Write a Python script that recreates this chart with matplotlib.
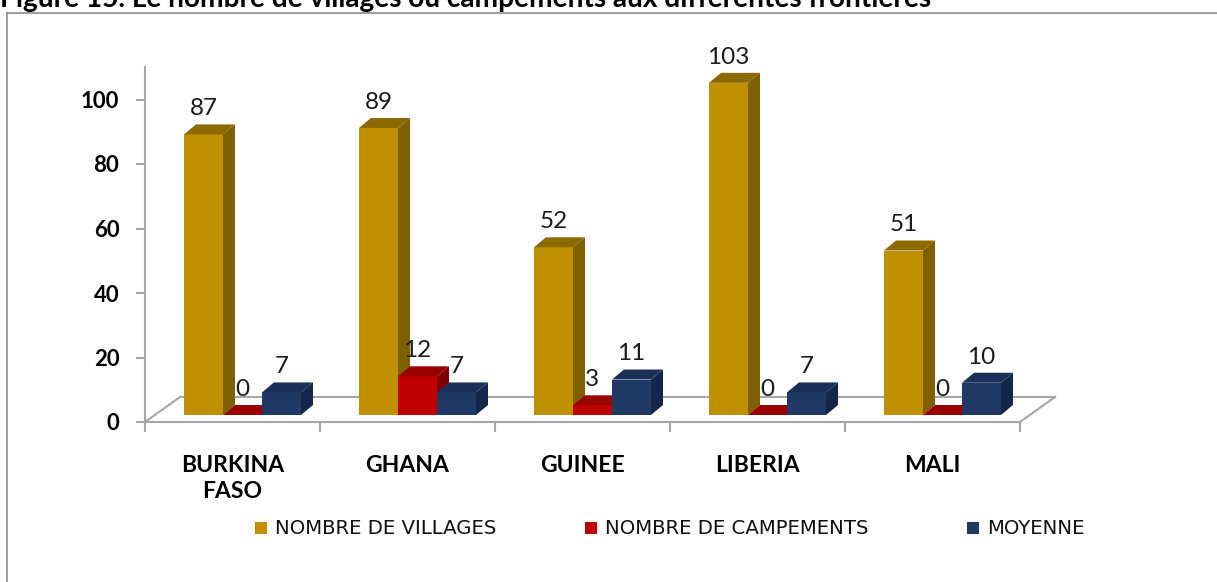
import matplotlib
matplotlib.use("Agg")
import matplotlib.pyplot as plt
from matplotlib.patches import Polygon, Rectangle
from matplotlib.lines import Line2D

# ---------------- data ----------------
categories = ["BURKINA\nFASO", "GHANA", "GUINEE", "LIBERIA", "MALI"]
series_names = ["NOMBRE DE VILLAGES", "NOMBRE DE CAMPEMENTS", "MOYENNE"]
villages = [87, 89, 52, 103, 51]
campements = [0, 12, 3, 0, 0]
moyenne = [7, 7, 11, 7, 10]
yticks = [0, 20, 40, 60, 80, 100]
title = "Figure 15. Le nombre de villages ou campements aux différentes frontières"

# ---------------- style ----------------
plt.rcParams["font.family"] = ["Lato", "DejaVu Sans"]
front_cols = ["#BF9000", "#C00000", "#1F3864"]
side_cols = ["#7F6000", "#800000", "#14264A"]
top_cols = ["#8C6A00", "#990000", "#1A3058"]
grey = "#A6A6A6"

W, H = 1217, 582
fig = plt.figure(figsize=(W / 100, H / 100), dpi=100)


def fx(x):
    return x / W


def fy(y):
    return 1 - y / H


# axes covering the front plane of the 3D chart
ax_left, ax_right, ax_base = 145, 1020, 422
ymax = 110
YU = 3.225  # px per value unit
ax = fig.add_axes([fx(ax_left), fy(ax_base), (ax_right - ax_left) / W, ymax * YU / H])
ax.set_xlim(-0.5, len(categories) - 0.5)
ax.set_ylim(0, ymax)
XU = (ax_right - ax_left) / len(categories)  # px per category

# depth geometry (pixels -> data units)
FDX, FDY = 35 / XU, 25 / YU     # floor depth
BDX, BDY = 10 / XU, 7 / YU      # bars sit in middle of floor depth
DX, DY = 12 / XU, 10 / YU       # bar depth
BW = 39 / XU                    # bar width

# floor outline
n = len(categories)
floor = [
    ((-0.5, 0), (-0.5 + FDX, FDY)),
    ((-0.5 + FDX, FDY), (n - 0.5 + FDX, FDY)),
    ((n - 0.5 + FDX, FDY), (n - 0.5, 0)),
]
for (x0, y0), (x1, y1) in floor:
    ax.add_line(Line2D([x0, x1], [y0, y1], color=grey, lw=1.5, clip_on=False, zorder=1))

series = [villages, campements, moyenne]
for j, vals in enumerate(series):
    for i, v in enumerate(vals):
        x0 = i + (j - 1) * BW - BW / 2 + BDX
        y0 = BDY
        y1 = y0 + v
        z = 3 + j
        ax.bar(x0, v, width=BW, bottom=y0, align="edge", color=front_cols[j],
               zorder=z, linewidth=0)
        ax.add_patch(Polygon([(x0 + BW, y0), (x0 + BW + DX, y0 + DY),
                              (x0 + BW + DX, y1 + DY), (x0 + BW, y1)],
                             closed=True, facecolor=side_cols[j], edgecolor="none", zorder=z))
        ax.add_patch(Polygon([(x0, y1), (x0 + DX, y1 + DY),
                              (x0 + BW + DX, y1 + DY), (x0 + BW, y1)],
                             closed=True, facecolor=top_cols[j], edgecolor="none", zorder=z))
        ax.annotate(str(v), xy=(x0 + BW / 2, y1 + DY), xytext=(0, 6.5),
                    textcoords="offset points", ha="center", va="baseline",
                    fontsize=17.5, color="#1a1a1a", zorder=10, annotation_clip=False)

# spines
for s in ["top", "right"]:
    ax.spines[s].set_visible(False)
for s in ["left", "bottom"]:
    ax.spines[s].set_color(grey)
    ax.spines[s].set_linewidth(1.5)
    ax.spines[s].set_zorder(2)

# y axis
ax.set_yticks(yticks)
ax.set_yticklabels([str(t) for t in yticks])
ax.tick_params(axis="y", length=6.5, width=1.5, color=grey, pad=12, labelsize=16)
for lbl in ax.get_yticklabels():
    lbl.set_fontweight("bold")

# x axis
ax.set_xticks(range(n))
ax.set_xticklabels(categories)
ax.set_xticks([k - 0.5 for k in range(n + 1)], minor=True)
ax.tick_params(axis="x", which="major", length=0, pad=24, labelsize=16.5)
ax.tick_params(axis="x", which="minor", length=7.5, width=1.5, color=grey)
for lbl in ax.get_xticklabels():
    lbl.set_fontweight("bold")
    lbl.set_linespacing(1.3)

# legend (manual)
leg_sq_x = [255, 585, 967]
for k, name in enumerate(series_names):
    fig.add_artist(Rectangle((fx(leg_sq_x[k]), fy(534)), 12 / W, 12 / H,
                             transform=fig.transFigure, facecolor=front_cols[k],
                             edgecolor="none"))
    fig.text(fx(leg_sq_x[k] + 20), fy(533.5), name, fontsize=14.2, va="baseline",
             ha="left", color="#111111", family=["DejaVu Sans"])

# chart frame (left and top edges visible)
fig.add_artist(Line2D([fx(7), fx(7)], [fy(13), fy(H + 5)], transform=fig.transFigure,
                      color="#8C8C8C", lw=1.2))
fig.add_artist(Line2D([fx(7), fx(W + 5)], [fy(13), fy(13)], transform=fig.transFigure,
                      color="#8C8C8C", lw=1.2))

# title (cut off at the top, as in the source): size so that its start matches
renderer = fig.canvas.get_renderer()
probe = fig.text(0, 0, "Figure 15. Le nomb", fontsize=10, fontweight="bold")
pw = probe.get_window_extent(renderer).width
probe.remove()
tsize = 10 * 240 / pw
fig.text(fx(0), fy(7), title, fontsize=tsize, fontweight="bold", ha="left",
         va="baseline", color="#000000")

fig.savefig("out.png", dpi=100, facecolor="white")
